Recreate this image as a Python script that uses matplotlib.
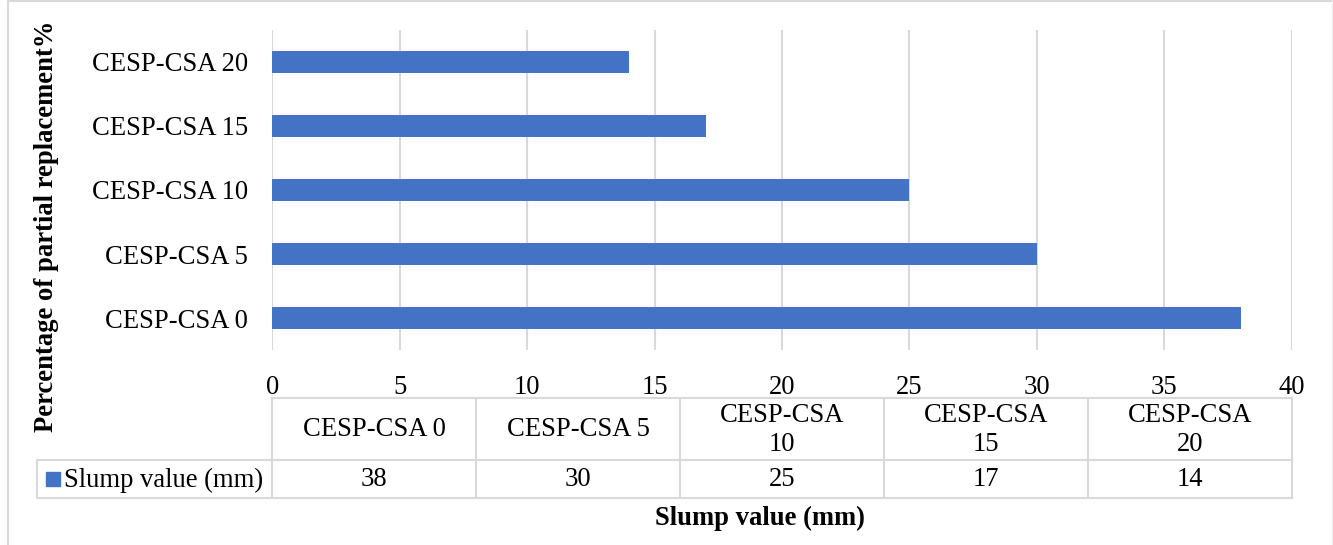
import matplotlib
matplotlib.use("Agg")
import matplotlib.pyplot as plt
from matplotlib.patches import Rectangle

categories = ["CESP-CSA 0", "CESP-CSA 5", "CESP-CSA 10", "CESP-CSA 15", "CESP-CSA 20"]
table_headers = ["CESP-CSA 0", "CESP-CSA 5", "CESP-CSA\n10", "CESP-CSA\n15", "CESP-CSA\n20"]
slump = [38, 30, 25, 17, 14]
series_name = "Slump value (mm)"
xlabel = "Slump value (mm)"
ylabel = "Percentage of partial replacement%"
xticks = [0, 5, 10, 15, 20, 25, 30, 35, 40]

plt.rcParams['font.family'] = ['Liberation Serif', 'DejaVu Serif']
W, H = 1333, 545
fig = plt.figure(figsize=(W / 100, H / 100), dpi=100)

BAR = "#4472C4"
GRID = "#D9D9D9"
FS = 19.2

# main axes
x0, x1, ytop, ybot = 272.3, 1291.6, 30, 350
ax = fig.add_axes([x0 / W, (H - ybot) / H, (x1 - x0) / W, (ybot - ytop) / H])
ypos = list(range(len(categories)))
ax.barh(ypos, slump, height=0.34, color=BAR, zorder=3)
ax.set_xlim(0, 40)
ax.set_ylim(-0.5, len(categories) - 0.5)
ax.set_xticks(xticks)
ax.set_xticklabels([str(t) for t in xticks], fontsize=FS)
ax.set_yticks(ypos)
ax.set_yticklabels(categories, fontsize=FS)
ax.tick_params(axis='both', length=0)
ax.tick_params(axis='x', pad=18)
ax.tick_params(axis='y', pad=17.5)
ax.grid(axis='x', color=GRID, linewidth=1.5, zorder=0)
for s in ax.spines.values():
    s.set_visible(False)

# overlay in pixel coordinates
ov = fig.add_axes([0, 0, 1, 1], zorder=-1)
ov.set_xlim(0, W)
ov.set_ylim(H, 0)
ov.axis('off')
ov.patch.set_alpha(0)

# outer frame
ov.plot([7.5, 7.5], [0, H], color=GRID, lw=1.5)
ov.plot([7.5, 1332], [0.8, 0.8], color=GRID, lw=1.5)
ov.plot([1332, 1332], [0, H], color="#EDEDED", lw=1)

# table
ttop, tmid, tbot = 398, 460, 498
leftx = 37
colw = (x1 - x0) / len(categories)
cols = [x0 + i * colw for i in range(len(categories) + 1)]
lc = GRID
lw = 1.5
ov.plot([x0, x1], [ttop, ttop], color=lc, lw=lw)
ov.plot([leftx, x1], [tmid, tmid], color=lc, lw=lw)
ov.plot([leftx, x1], [tbot, tbot], color=lc, lw=lw)
for cx in cols:
    ov.plot([cx, cx], [ttop, tbot], color=lc, lw=lw)
ov.plot([leftx, leftx], [tmid, tbot], color=lc, lw=lw)

for i, (h, v) in enumerate(zip(table_headers, slump)):
    cx = (cols[i] + cols[i + 1]) / 2
    ov.text(cx, (ttop + tmid) / 2 + 1, h, ha='center', va='center', fontsize=FS,
            linespacing=1.2)
    ov.text(cx, (tmid + tbot) / 2 + 1, str(v), ha='center', va='center', fontsize=FS)

ov.add_patch(Rectangle((46, 472), 14, 13.5, color=BAR))
ov.text(64, (tmid + tbot) / 2 + 1, series_name, ha='left', va='center', fontsize=FS)

# axis titles
ov.text(760, 518, xlabel, ha='center', va='center', fontsize=FS, fontweight='bold')
ov.text(47, 226, ylabel, ha='center', va='center', fontsize=FS, fontweight='bold',
        rotation=90)

fig.savefig("out.png", dpi=100)
